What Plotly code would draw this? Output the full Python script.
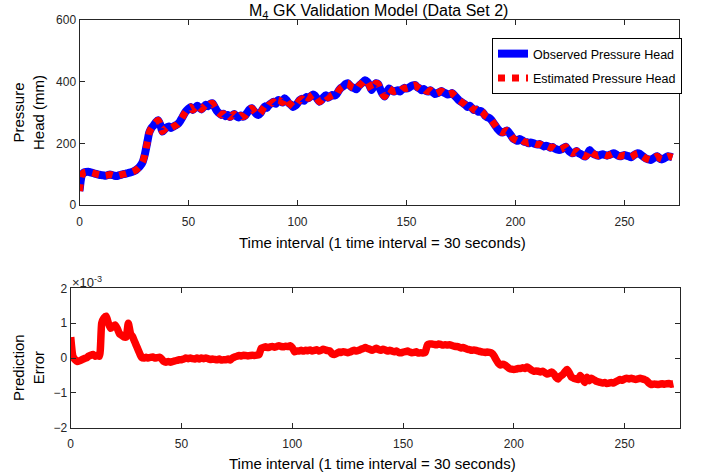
import plotly.graph_objects as go

# ---- data ----
time_idx = list(range(0, 273))

observed_head = [
    45, 95, 105, 107, 108, 106, 104, 102, 100, 98,
    97, 96, 95, 97, 99, 97, 95, 94, 96, 98,
    100, 101, 103, 105, 107, 110, 114, 120, 128, 140,
    165, 200, 235, 250, 258, 268, 275, 262, 238, 245,
    252, 255, 250, 254, 258, 262, 270, 282, 295, 305,
    312, 318, 308, 315, 322, 316, 310, 318, 325, 320,
    328, 330, 318, 305, 298, 292, 296, 288, 292, 285,
    290, 295, 288, 284, 290, 286, 290, 300, 310, 314,
    305, 296, 292, 298, 310, 320, 315, 325, 330, 335,
    328, 340, 338, 332, 346, 340, 330, 325, 318, 322,
    330, 340, 345, 338, 350, 346, 352, 358, 355, 345,
    335, 340, 350, 356, 348, 352, 357, 355, 360, 372,
    380, 385, 392, 395, 388, 382, 379, 375, 385, 392,
    398, 405, 400, 388, 373, 385, 395, 392, 375, 360,
    352, 365, 378, 372, 368, 370, 372, 368, 375, 380,
    378, 380, 385, 388, 389, 382, 378, 372, 376, 370,
    368, 372, 366, 360, 362, 366, 370, 365, 362, 358,
    360, 363, 355, 348, 340, 335, 330, 325, 318, 322,
    315, 308, 310, 302, 305, 300, 290, 285, 282, 275,
    265, 255, 245, 238, 235, 238, 242, 235, 225, 215,
    211, 208, 214, 210, 205, 204, 200, 203, 201, 198,
    196, 198, 194, 190, 192, 190, 186, 188, 183, 180,
    178, 180, 185, 189, 180, 172, 168, 170, 175, 168,
    165, 160, 157, 165, 178, 170, 165, 162, 160, 163,
    165, 162, 160, 162, 165, 168, 165, 160, 158, 160,
    162, 160, 158, 155, 160, 165, 168, 166, 160, 155,
    150, 148, 146, 150, 155, 158, 152, 148, 150, 155,
    158, 157, 155,
]

# prediction error in units of 1e-3
prediction_error_e3 = [
    0.6, 0.05, -0.05, -0.1, -0.08, -0.05, -0.02, 0.0, 0.05, 0.08,
    0.1, 0.05, 0.08, 0.05, 1.0, 1.15, 1.2, 1.0, 0.85, 0.9,
    0.95, 0.85, 0.7, 0.65, 0.6, 0.6, 1.0, 0.7, 0.6, 0.45,
    0.3, 0.15, 0.02, 0.0, 0.02, 0.0, 0.02, 0.03, 0.0, 0.01,
    0.02, -0.02, -0.1, -0.12, -0.1, -0.12, -0.1, -0.08, -0.07, -0.05,
    -0.05, -0.03, 0.0, -0.02, 0.0, -0.02, -0.03, 0.0, -0.03, 0.0,
    -0.02, 0.0, -0.02, -0.04, -0.03, -0.04, -0.05, -0.03, -0.06, -0.05,
    -0.05, -0.03, -0.06, 0.0, 0.03, 0.05, 0.07, 0.06, 0.08, 0.07,
    0.06, 0.07, 0.08, 0.07, 0.08, 0.1, 0.28, 0.3, 0.32, 0.3,
    0.32, 0.33, 0.31, 0.33, 0.35, 0.33, 0.32, 0.34, 0.33, 0.35,
    0.3, 0.18, 0.2, 0.2, 0.22, 0.2, 0.22, 0.21, 0.23, 0.2,
    0.22, 0.24, 0.2, 0.22, 0.25, 0.23, 0.21, 0.2, 0.12, 0.1,
    0.13, 0.17, 0.16, 0.18, 0.17, 0.15, 0.17, 0.2, 0.22, 0.2,
    0.22, 0.25, 0.27, 0.3, 0.27, 0.25, 0.22, 0.25, 0.28, 0.24,
    0.22, 0.25, 0.23, 0.2, 0.22, 0.2, 0.18, 0.2, 0.16, 0.15,
    0.17, 0.18, 0.2, 0.17, 0.15, 0.16, 0.18, 0.14, 0.15, 0.14,
    0.16, 0.38, 0.4, 0.4, 0.39, 0.38, 0.4, 0.39, 0.37, 0.38,
    0.37, 0.38, 0.36, 0.34, 0.33, 0.32, 0.29, 0.3, 0.28, 0.25,
    0.24, 0.22, 0.23, 0.22, 0.2, 0.18, 0.17, 0.16, 0.17, 0.16,
    0.14, 0.07, -0.05, -0.15, -0.2, -0.18, -0.2, -0.25, -0.3, -0.32,
    -0.33, -0.32, -0.3, -0.3, -0.28, -0.3, -0.26, -0.3, -0.35, -0.38,
    -0.37, -0.38, -0.4, -0.38, -0.42, -0.46, -0.44, -0.4, -0.45, -0.55,
    -0.6, -0.52, -0.48, -0.4, -0.33, -0.42, -0.55, -0.58, -0.6, -0.62,
    -0.5, -0.6, -0.7, -0.55, -0.65, -0.58, -0.62, -0.66, -0.68, -0.7,
    -0.72, -0.7, -0.73, -0.72, -0.7, -0.72, -0.68, -0.65, -0.62, -0.64,
    -0.6, -0.58, -0.6, -0.58, -0.6, -0.62, -0.6, -0.58, -0.6, -0.62,
    -0.65, -0.72, -0.76, -0.75, -0.75, -0.76, -0.75, -0.74, -0.75, -0.74,
    -0.73, -0.75, -0.74,
]

# estimated = observed - prediction error
estimated_head = [o - e * 1e-3 for o, e in zip(observed_head, prediction_error_e3)]

x_ticks = [0, 50, 100, 150, 200, 250]
top_y_ticks = [0, 200, 400, 600]
bot_y_ticks = [-2, -1, 0, 1, 2]

FONT = "Liberation Sans, Arial, Helvetica, sans-serif"
AX = "#262626"
W, H = 715, 476

fig = go.Figure()
fig.add_trace(go.Scatter(x=time_idx, y=observed_head, mode="lines",
                         name="Observed Pressure Head", legendgroup="a",
                         line=dict(color="#0000ff", width=8, shape="spline", smoothing=0.6),
                         xaxis="x", yaxis="y"))
fig.add_trace(go.Scatter(x=time_idx, y=estimated_head, mode="lines",
                         name="Estimated Pressure Head", legendgroup="b",
                         line=dict(color="#ff0000", width=7, dash="7px,7px",
                                   shape="spline", smoothing=0.6),
                         xaxis="x", yaxis="y"))
fig.add_trace(go.Scatter(x=time_idx, y=prediction_error_e3, mode="lines",
                         showlegend=False,
                         line=dict(color="#ff0000", width=7.5, shape="spline", smoothing=0.5),
                         xaxis="x2", yaxis="y2"))

def px_x(p):
    return p / W

def px_y(p):
    return (H - p) / H

axis_common = dict(showline=True, linecolor=AX, linewidth=1, mirror="ticks",
                   ticks="inside", ticklen=5, tickcolor=AX, showgrid=False,
                   zeroline=False, tickfont=dict(family=FONT, size=12, color=AX),
                   automargin=False)

fig.update_layout(
    width=W, height=H,
    margin=dict(l=0, r=0, t=0, b=0),
    paper_bgcolor="white", plot_bgcolor="white",
    font=dict(family=FONT, color=AX),
    xaxis=dict(domain=[px_x(79.5), px_x(679)], range=[0, 275], tickvals=x_ticks,
               anchor="y", ticklabelstandoff=6, **axis_common),
    yaxis=dict(domain=[px_y(205), px_y(20)], range=[0, 600], tickvals=top_y_ticks,
               anchor="x", **axis_common),
    xaxis2=dict(domain=[px_x(70.7), px_x(680)], range=[0, 275], tickvals=x_ticks,
                anchor="y2", ticklabelstandoff=5, **axis_common),
    yaxis2=dict(domain=[px_y(427.7), px_y(288.3)], range=[-2, 2], tickvals=bot_y_ticks,
                anchor="x2", **axis_common),
    showlegend=True,
    legend=dict(x=px_x(492), y=px_y(38), xanchor="left", yanchor="top",
                bgcolor="white", bordercolor="#000000", borderwidth=1,
                font=dict(family=FONT, size=12.5, color="#000000"),
                traceorder="grouped", tracegroupgap=5),
)

ann = [
    dict(text="M<sub>4</sub> GK Validation Model (Data Set 2)", x=px_x(378), y=px_y(11),
         font=dict(size=16, color="#000000")),
    dict(text="Time interval (1 time interval = 30 seconds)", x=px_x(382), y=px_y(242),
         font=dict(size=15, color="#000000")),
    dict(text="Time interval (1 time interval = 30 seconds)", x=px_x(372), y=px_y(463),
         font=dict(size=15, color="#000000")),
    dict(text="Pressure<br>Head (mm)", x=px_x(28), y=px_y(113), textangle=-90,
         font=dict(size=15, color="#000000")),
    dict(text="Prediction<br>Error", x=px_x(28), y=px_y(368), textangle=-90,
         font=dict(size=15, color="#000000")),
    dict(text="×10<sup>-3</sup>", x=px_x(70), y=px_y(292), xanchor="left", yanchor="bottom",
         font=dict(size=13, color=AX)),
]
for a in ann:
    a.setdefault("xanchor", "center")
    a.setdefault("yanchor", "middle")
    fig.add_annotation(xref="paper", yref="paper", showarrow=False,
                       font_family=FONT, **a)

fig.write_html("out.html", config={"displayModeBar": False},
               post_script="document.body.style.margin='0px';")
